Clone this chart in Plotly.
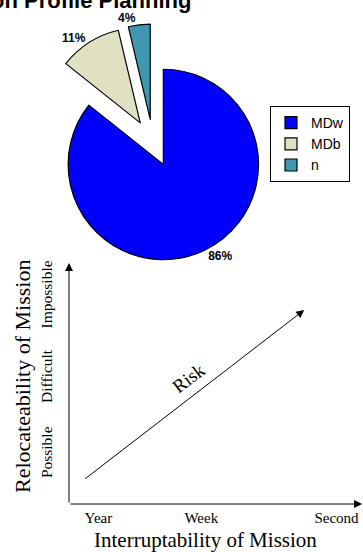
import plotly.graph_objects as go

# ---- data ----
pie_labels = ["MDw", "MDb", "n"]
pie_values = [85.7, 10.6, 3.7]
pie_colors = ["#0000FF", "#E0E0C2", "#3F98B0"]
pie_pull = [0.25, 0.25, 0.25]

x_tick_vals = [1.0, 4.5, 9.1]
x_tick_text = ["Year", "Week", "Second"]
y_tick_vals = [2.05, 5.2, 8.6]
y_tick_text = ["Possible", "Difficult", "Impossible"]

risk_start = (0.5, 1.0)
risk_end = (8.0, 8.05)
axis_x_end = 9.97
axis_y_end = 10.0

W, H = 363, 552
SERIF = "Liberation Serif"
SANS = "Liberation Sans"

fig = go.Figure()

fig.add_trace(go.Pie(
    labels=pie_labels, values=pie_values, sort=False,
    direction="clockwise", rotation=0, pull=pie_pull,
    marker=dict(colors=pie_colors, line=dict(color="black", width=1.2)),
    textinfo="percent", texttemplate="<b>%{percent:.0%}</b>",
    textposition="outside", automargin=False,
    textfont=dict(family=SANS, size=12, color="black"),
    domain=dict(x=[34 / W, 272 / W], y=[1 - 262 / H, 1 - 24 / H]),
    hoverinfo="label+percent",
))

# invisible trace to create the bottom axes
fig.add_trace(go.Scatter(x=[0, 10], y=[0, 10], mode="markers",
                         marker=dict(opacity=0), showlegend=False,
                         hoverinfo="skip", xaxis="x", yaxis="y"))

ann = []
arrow_style = dict(xref="x", yref="y", axref="x", ayref="y", text="", showarrow=True,
                   arrowhead=2, arrowsize=1.6, arrowwidth=1, arrowcolor="black",
                   standoff=0, startstandoff=0)
ann.append(dict(x=axis_x_end, y=0, ax=0, ay=0, **arrow_style))
ann.append(dict(x=0, y=axis_y_end, ax=0, ay=0, **arrow_style))
ann.append(dict(x=risk_end[0], y=risk_end[1], ax=risk_start[0], ay=risk_start[1], **arrow_style))
ann.append(dict(x=4.05, y=5.22, xref="x", yref="y", text="Risk", showarrow=False,
                textangle=-37, font=dict(family=SERIF, size=19, color="black")))
# axis titles
ann.append(dict(x=206 / W, y=1 - 540 / H, xref="paper", yref="paper",
                text="Interruptability of Mission", showarrow=False,
                xanchor="center", yanchor="middle",
                font=dict(family=SERIF, size=21, color="black")))
ann.append(dict(x=22 / W, y=1 - 377 / H, xref="paper", yref="paper",
                text="Relocateability of Mission", showarrow=False, textangle=-90,
                xanchor="center", yanchor="middle",
                font=dict(family=SERIF, size=22, color="black")))
# clipped title at the top
ann.append(dict(x=193 / W, y=1 - 15 / H, xref="paper", yref="paper",
                text="<b>Mission Profile Planning</b>", showarrow=False,
                xanchor="right", yanchor="bottom",
                font=dict(family=SANS, size=22, color="black")))

fig.update_layout(
    template="none",
    width=W, height=H,
    margin=dict(l=0, r=0, t=0, b=0, autoexpand=False),
    paper_bgcolor="white", plot_bgcolor="white",
    font=dict(family=SANS, color="black"),
    showlegend=True,
    legend=dict(x=270 / W, y=1 - 106 / H, xanchor="left", yanchor="top",
                bordercolor="black", borderwidth=1, bgcolor="white",
                font=dict(family=SANS, size=14, color="black"),
                itemwidth=30),
    xaxis=dict(domain=[69 / W, 1.0], range=[0, 10], showgrid=False, zeroline=False,
               showline=False, ticks="", tickvals=x_tick_vals, ticktext=x_tick_text,
               tickfont=dict(family=SERIF, size=15, color="black"),
               ticklabelstandoff=3, automargin=False, fixedrange=True),
    yaxis=dict(domain=[1 - 504 / H, 1 - 263 / H], range=[0, 10], showgrid=False,
               zeroline=False, showline=False, ticks="", tickvals=y_tick_vals,
               ticktext=y_tick_text, tickangle=-90,
               tickfont=dict(family=SERIF, size=15.5, color="black"),
               ticklabelstandoff=13, automargin=False, fixedrange=True),
    annotations=ann,
)

fig.write_html("out.html")
